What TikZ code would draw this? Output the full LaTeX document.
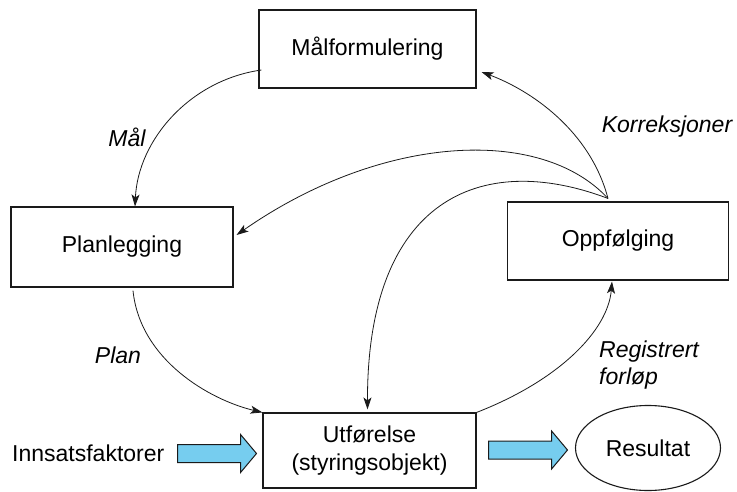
\documentclass[tikz,border=0pt]{standalone}
\usepackage{fontspec}
\setmainfont{Liberation Sans}
\usetikzlibrary{arrows.meta,positioning,calc,shapes.geometric,shapes.arrows}
\definecolor{FlowLine}{HTML}{1A1A1A}
\definecolor{FlowFill}{HTML}{76CDEF}
\tikzset{>={Stealth[length=12pt,width=8pt,inset=3pt]},
 every node/.style={font=\fontsize{23}{27.6}\selectfont},
 stepbox/.style={draw=FlowLine,line width=1.1pt,fill=white,align=center,inner sep=0pt},
 flow/.style={draw=FlowLine,line width=0.8pt,->}}

\begin{document}
\begin{tikzpicture}[x=1pt,y=-1pt,
 label/.style={font=\fontsize{23}{27.6}\selectfont\itshape,align=left,inner sep=0pt},
 fatarrow/.style={single arrow,draw=FlowLine,line width=1pt,fill=FlowFill,
  minimum height=79pt,minimum width=37pt,inner sep=8.5pt,
  single arrow head extend=10pt,single arrow tip angle=100,shape border uses incircle=false}]
\useasboundingbox (0,0) rectangle (737,492);
% The four boxes of the control loop, at their centres.
\node[stepbox,minimum width=217pt,minimum height=78pt] (malf) at (367.5,49) {Målformulering};
\node[stepbox,minimum width=222pt,minimum height=80pt] (plan) at (122,247) {Planlegging};
\node[stepbox,minimum width=221pt,minimum height=78pt] (oppf) at (618,241) {Oppfølging};
\node[stepbox,minimum width=213pt,minimum height=75pt] (utf) at (369.5,450.5)
 {Utførelse\\(styringsobjekt)};
\node[ellipse,draw=FlowLine,line width=1.1pt,minimum width=145pt,minimum height=85pt,
 inner sep=0pt] (res) at (648,448) {Resultat};
\node[anchor=west,inner sep=0pt] (inns) at (12,453) {Innsatsfaktorer};
% Thick blue arrows for input and output.
\node[fatarrow,anchor=west] (inarr) at (177,453.5) {};
\node[fatarrow,anchor=west] (outarr) at (488,450) {};
% Curved connectors round the loop.
\draw[flow] ($(malf.west)+(3,21)$) .. controls (190,80) and (138,140) .. ($(plan.north)+(13,0)$);
\draw[flow] ($(plan.south)+(11,3)$) .. controls (140,360) and (210,400) .. (utf.north west);
\draw[flow] (utf.north east) .. controls (560,380) and (608,330) .. ($(oppf.south)+(-6,1)$);
\coordinate (korr) at ($(oppf.north)+(-10,-3)$);
\draw[flow] (korr) .. controls (590,130) and (530,90) .. ($(malf.east)+(5,23)$);
\draw[flow] (korr) .. controls (540,125) and (380,135) .. ($(plan.east)+(3,-12)$);
\draw[flow] (korr) .. controls (480,150) and (367,200) .. ($(utf.north)+(-2,-3)$);
\node[label] (lmal) at (127,137) {Mål};
\node[label] (lplan) at (118,355) {Plan};
\node[label] (lkorr) at (667,127) {Korreksjoner};
\node[label,anchor=west] (lreg) at (599,365) {Registrert\\forløp};
\end{tikzpicture}
\end{document}
